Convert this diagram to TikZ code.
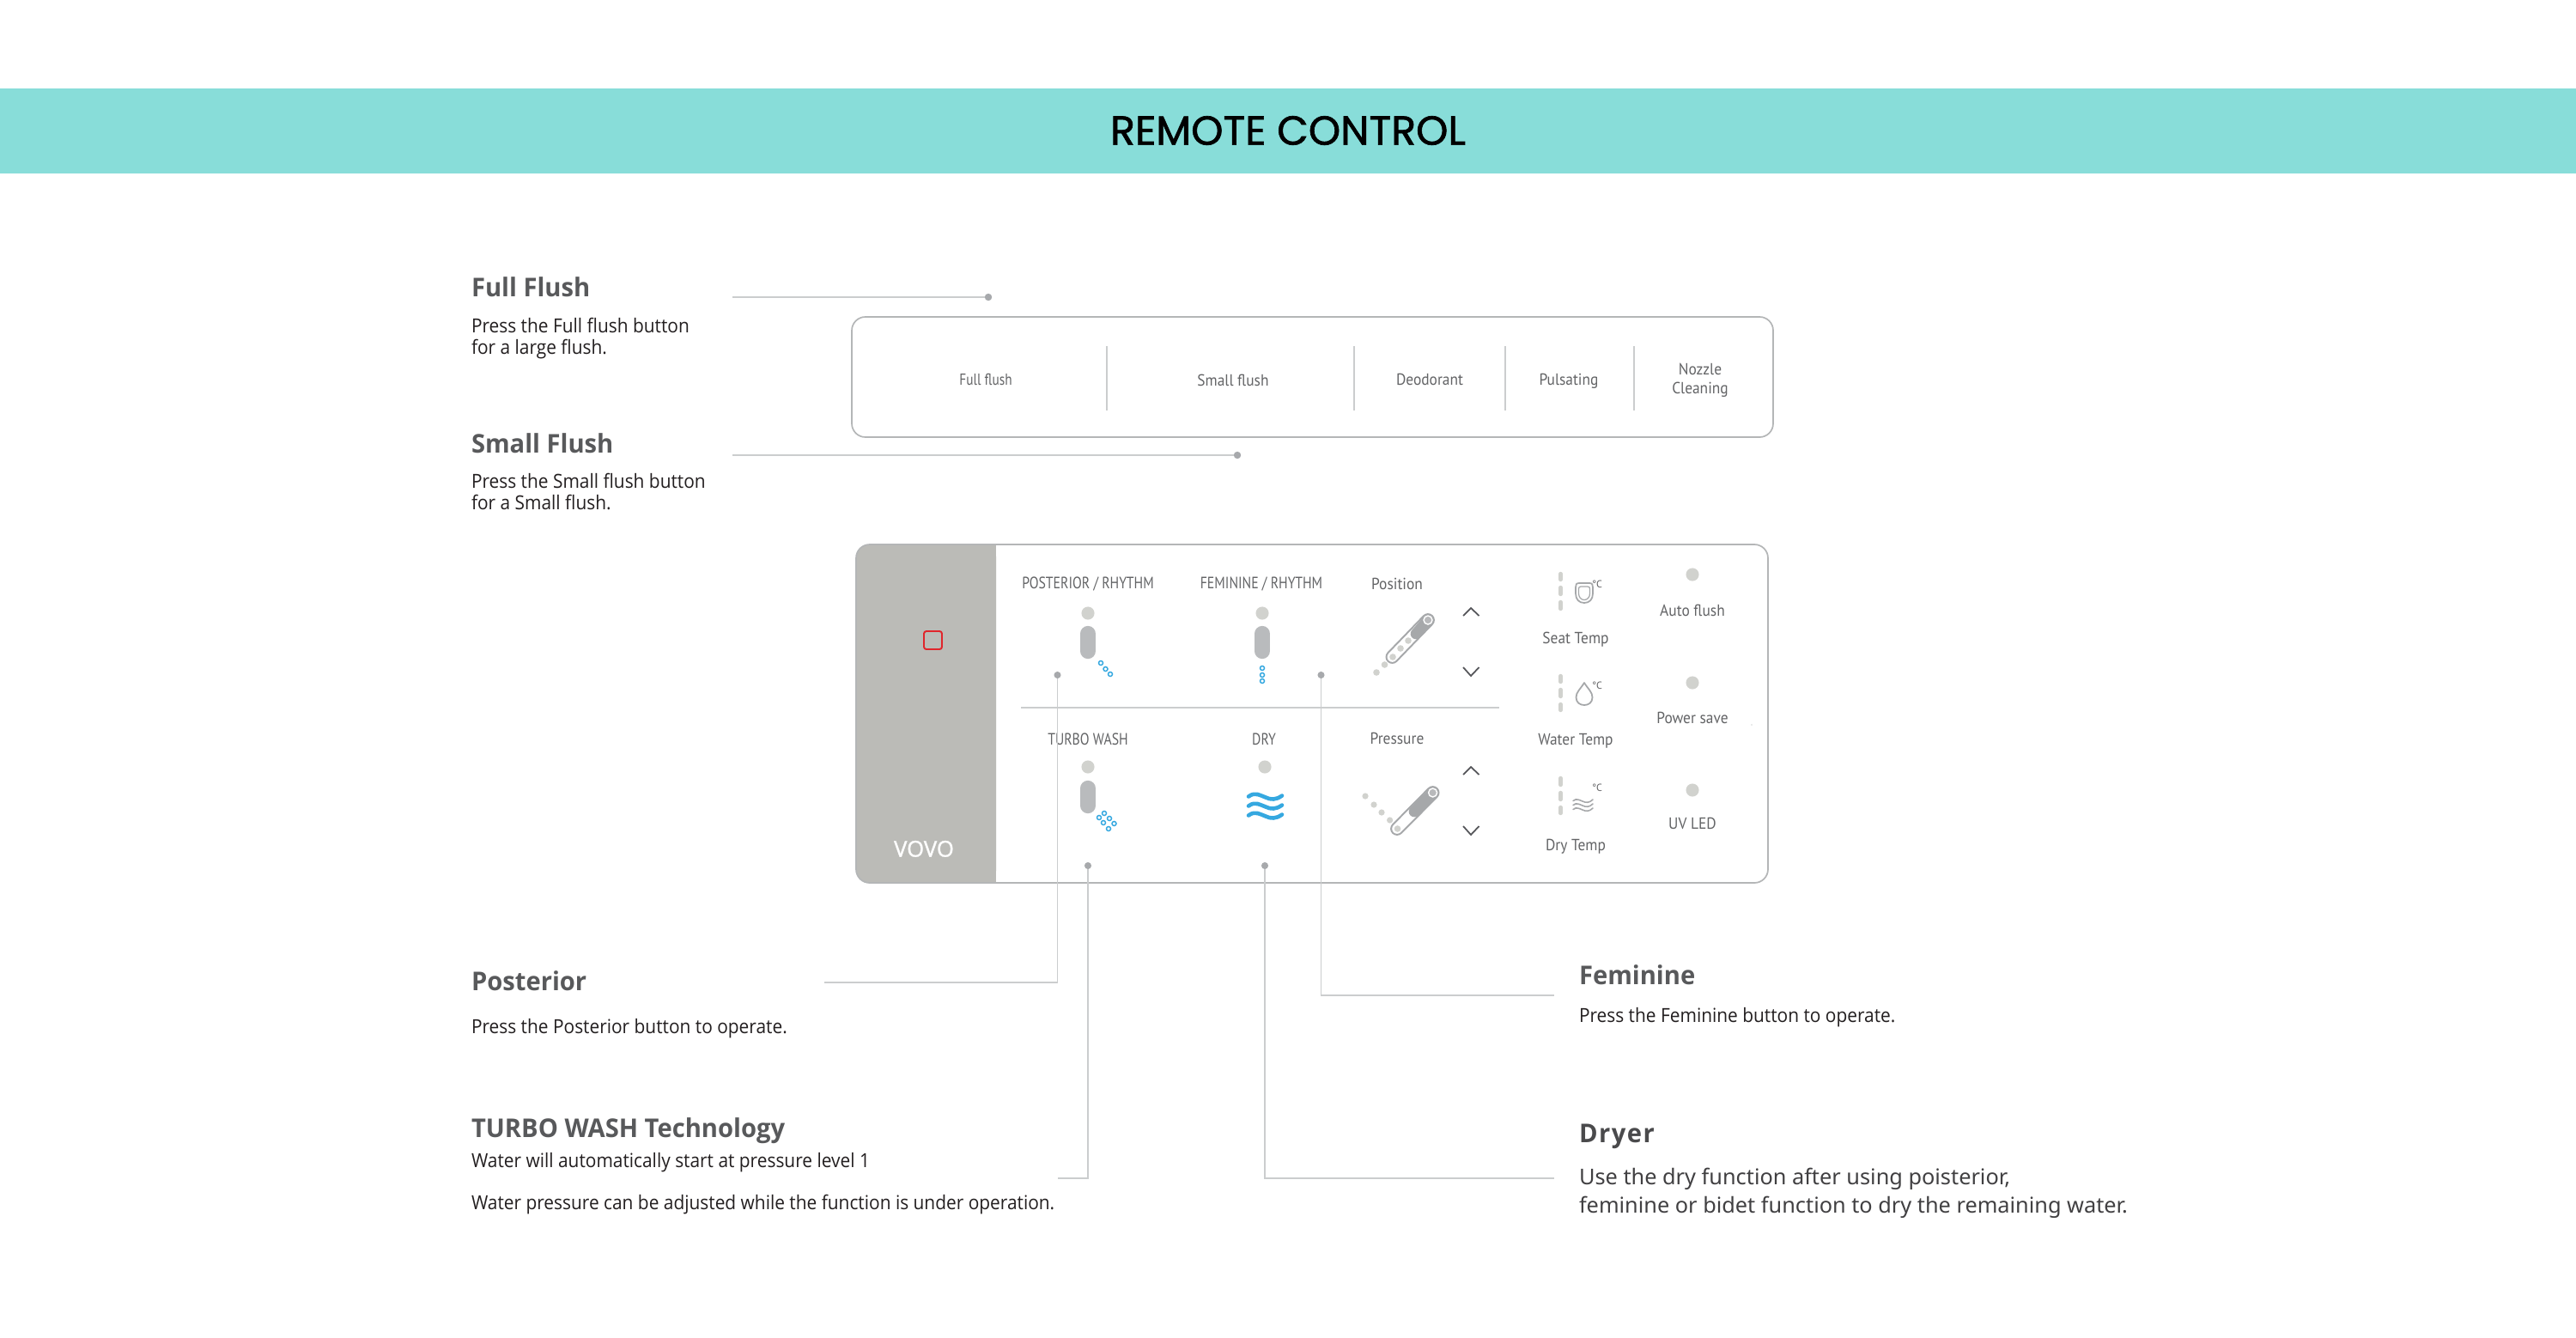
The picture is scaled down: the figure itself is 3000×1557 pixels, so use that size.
\documentclass[tikz,border=0pt]{standalone}
\usepackage{fontspec}
\setmainfont{Open Sans}[FakeStretch=0.925]
\newfontfamily\headfont{Open Sans}[FakeStretch=0.97]
\newfontfamily\vovofont{Open Sans}[FakeBold=1.3]
\newfontfamily\titlefont{Poppins}[FakeBold=1.4]
\newfontfamily\panelfont{PT Sans}[FakeStretch=0.925]
\newfontfamily\capsfont{PT Sans}[FakeStretch=0.823]
\newfontfamily\tinyfont{PT Sans}
\newfontfamily\dryfont{Noto Sans}
\definecolor{banner}{HTML}{88DDD9}
\definecolor{headgray}{HTML}{58595B}
\definecolor{dryhead}{HTML}{4A4A4C}
\definecolor{drybody}{HTML}{414042}
\definecolor{bodyink}{HTML}{231F20}
\definecolor{panelink}{HTML}{636466}
\definecolor{panelgray}{HTML}{BBBBB7}
\definecolor{edgegray}{HTML}{B4B6B7}
\definecolor{leader}{HTML}{CBCDCE}
\definecolor{dotgray}{HTML}{A7A9AC}
\definecolor{ledgray}{HTML}{D1D2CE}
\definecolor{capgray}{HTML}{B9BBBD}
\definecolor{tubedark}{HTML}{A6A8AA}
\definecolor{bluewash}{HTML}{35A8E0}
\definecolor{redmark}{HTML}{E0252B}
\definecolor{chevron}{HTML}{55565A}
\tikzset{
  every node/.style={inner sep=0pt,outer sep=0pt},
  heading/.style={anchor=base west,yshift=-0.5pt,text=headgray,font=\fontsize{8.55}{10}\selectfont\headfont\bfseries},
  dryheading/.style={anchor=base west,yshift=-0.5pt,text=dryhead,font=\fontsize{8.55}{10}\selectfont\headfont\bfseries\addfontfeature{LetterSpace=5}},
  bodytext/.style={anchor=base west,yshift=-0.5pt,text=bodyink,font=\fontsize{6.42}{8}\selectfont},
  drytext/.style={anchor=base west,yshift=-0.5pt,text=drybody,font=\fontsize{7.2}{9}\selectfont\dryfont},
  paneltext/.style={yshift=-0.4pt,text=panelink,align=center,font=\fontsize{5.35}{6.2}\selectfont\panelfont},
  capstext/.style={yshift=-0.4pt,text=panelink,align=center,font=\fontsize{5.45}{6}\selectfont\capsfont},
  tinytext/.style={text=panelink,font=\fontsize{3.4}{4}\selectfont\tinyfont},
  leaderline/.style={draw=leader,line width=0.5pt},
  thickleader/.style={draw=leader,line width=0.7pt},
  enddot/.style={circle,fill=dotgray,minimum size=2.4pt},
  led/.style={circle,fill=ledgray,minimum size=4.3pt},
  divider/.style={draw=leader,line width=0.35pt},
  frameline/.style={draw=edgegray,line width=0.48pt,rounded corners=4.5pt},
  capsule/.style={line width=5.2pt,line cap=round,draw=capgray},
  ring/.style={draw=bluewash,line width=0.42pt,fill=white},
  tempdash/.style={draw=ledgray,line width=1.25pt,line cap=round},
  chev/.style={draw=chevron,line width=0.5pt,line join=miter},
  iconline/.style={draw=tubedark,line width=0.5pt,line join=round},
}
\begin{document}
\begin{tikzpicture}[x=0.01cm,y=-0.01cm]
\useasboundingbox (0,0) rectangle (3000,1557);
\fill[white] (0,0) rectangle (3000,1557);
% banner
\fill[banner] (0,103) rectangle (3000,202);
\node (title) at (1500,152) {\titlefont\fontsize{13.5}{16}\selectfont REMOTE CONTROL};
% left texts, upper
\node[heading] (hFull) at (549,344) {Full Flush};
\node[bodytext] (bFull1) at (549,386) {Press the Full flush button};
\node[bodytext] (bFull2) at (549,411) {for a large flush.};
\node[heading] (hSmall) at (549,526) {Small Flush};
\node[bodytext] (bSmall1) at (549,567) {Press the Small flush button};
\node[bodytext] (bSmall2) at (549,592) {for a Small flush.};
% flush bar
\draw[frameline] (992,369) rectangle (2065,509);
\foreach \x in {1289,1577,1753,1903}{\draw[divider] (\x,403) -- (\x,478);}
\node[paneltext,font=\fontsize{5.3}{6.2}\selectfont\capsfont] (tFull) at (1148,441) {Full flush};
\node[paneltext] (tSmall) at (1436,441) {Small flush};
\node[paneltext] (tDeo) at (1665,441) {Deodorant};
\node[paneltext] (tPul) at (1827,442.5) {Pulsating};
\node[paneltext] (tNoz) at (1980,441.5) {Nozzle\\Cleaning};
% flush leaders
\coordinate (fullStart) at (853,346);
\coordinate (smallStart) at (853,530);
\node[enddot] (fullDot) at (1151,346) {};
\node[enddot] (smallDot) at (1441,530) {};
\draw[thickleader] (fullStart) -- (fullDot);
\draw[thickleader] (smallStart) -- (smallDot);
% remote
\fill[panelgray,rounded corners=4pt] (997,634) -- (997,1028) -- (1160,1028) -- (1160,634) -- cycle;
\fill[panelgray] (1060,634) rectangle (1160,1028);
\draw[frameline] (997,634) rectangle (2059,1028);
\draw[draw=redmark,line width=0.55pt,rounded corners=0.8pt] (1076,735) rectangle (1097,756);
\node[yshift=-0.4pt,text=white,font=\fontsize{7.3}{9}\selectfont\vovofont] (vovo) at (1076,987) {VOVO};
\draw[draw=leader,line width=0.45pt] (1189,824) -- (1746,824);
% panel labels
\node[capstext] (lPos) at (1267,679) {POSTERIOR / RHYTHM};
\node[capstext] (lFem) at (1469,679) {FEMININE / RHYTHM};
\node[paneltext] (lPosn) at (1627,679) {Position};
\node[capstext] (lTurbo) at (1267,859) {TURBO WASH};
\node[capstext] (lDry) at (1472,859) {DRY};
\node[paneltext] (lPres) at (1627,859) {Pressure};
\node[paneltext] (lSeat) at (1835,743) {Seat Temp};
\node[paneltext] (lWater) at (1835,861) {Water Temp};
\node[paneltext] (lDryT) at (1835,984) {Dry Temp};
\node[paneltext] (lAuto) at (1971,709) {Auto flush};
\node[paneltext] (lPower) at (1971,835) {Power save};
\node[paneltext] (lUV) at (1971,958) {UV LED};
% indicator lights
\foreach \n/\x/\y in {a/1267/714,b/1470/714,c/1267/893,d/1473/893,e/1971/669,f/1971/795,g/1971/920}{\node[led] (led\n) at (\x,\y) {};}
% capsules
\draw[capsule] (1267,738) -- (1267,758);
\draw[capsule] (1470,738) -- (1470,758);
\draw[capsule] (1267,918) -- (1267,938);
% blue rings
\foreach \x/\y in {1282/772,1287.5/779,1293/785,1470/778,1470/786,1470/793,1286/947,1292/953,1297.5/959,1280/952,1285/958,1291/965}{\draw[ring] (\x,\y) circle (2.5);}
% dry waves
\foreach \y in {928.5,939.5,950.5}{\draw[draw=bluewash,line width=1.3pt,line cap=round] (1454,\y-1) .. controls (1462,\y-7) and (1468,\y-2) .. (1474,\y) .. controls (1480,\y+3) and (1486,\y+3) .. (1493,\y-2);}
% position tube
\foreach \x/\y in {1603/783,1612.5/774}{\fill[ledgray] (\x,\y) circle (3.8);}
\draw[draw=tubedark,line width=4.5pt,line cap=round] (1621.4,765) -- (1663,722);
\draw[draw=white,line width=3.3pt,line cap=round] (1621.4,765) -- (1663,722);
\foreach \x/\y in {1622/765,1631/755,1640/746}{\fill[ledgray] (\x,\y) circle (3.8);}
\draw[draw=tubedark,line width=3.6pt,line cap=round] (1649,738) -- (1663,722);
\draw[draw=white,line width=0.4pt,fill=tubedark!80] (1663,722) circle (5);
% pressure tube
\foreach \x/\y in {1590/927,1600/937,1609/946,1618.6/955}{\fill[ledgray] (\x,\y) circle (3.6);}
\draw[draw=tubedark,line width=4.5pt,line cap=round] (1627,965) -- (1668.6,923);
\draw[draw=white,line width=3.3pt,line cap=round] (1627,965) -- (1668.6,923);
\fill[ledgray] (1627.5,965) circle (3.8);
\draw[draw=tubedark,line width=3.6pt,line cap=round] (1647,945) -- (1668.6,923);
\draw[draw=white,line width=0.4pt,fill=tubedark!80] (1668.6,923) circle (5);
% chevrons
\draw[chev] (1704,717) -- (1713,708) -- (1722.5,717);
\draw[chev] (1704,777) -- (1713,787) -- (1722.5,777);
\draw[chev] (1704,902) -- (1713,893) -- (1722.5,902);
\draw[chev] (1704,962) -- (1713,972) -- (1722.5,962);
% temp dashes
\foreach \a/\b in {668/675,684/692,701/709,787/794,803/811,820/827,906/914,923/931,940/947}{\draw[tempdash] (1817.5,\a) -- (1817.5,\b);}
% seat icon
\draw[iconline] (1839,679) -- (1851,679) .. controls (1854.5,679) and (1855,681) .. (1855,684) -- (1855,691) .. controls (1855,698) and (1851,702) .. (1845,702) .. controls (1839,702) and (1835,698) .. (1835,691) -- (1835,684) .. controls (1835,681) and (1835.5,679) .. (1839,679) -- cycle;
\draw[iconline,line width=0.35pt] (1841,683) -- (1849,683) .. controls (1851,683) and (1851.5,684) .. (1851.5,686) -- (1851.5,691) .. controls (1851.5,695) and (1849,698.5) .. (1845,698.5) .. controls (1841,698.5) and (1838.5,695) .. (1838.5,691) -- (1838.5,686) .. controls (1838.5,684) and (1839,683) .. (1841,683) -- cycle;
% drop icon
\draw[iconline] (1845,795) .. controls (1840,803) and (1835.5,806) .. (1835.5,812) .. controls (1835.5,818) and (1840,821) .. (1845,821) .. controls (1850,821) and (1854.5,818) .. (1854.5,812) .. controls (1854.5,806) and (1850,803) .. (1845,795) -- cycle;
% dry temp icon
\foreach \y in {933,938,943}{\draw[draw=tubedark,line width=0.45pt,line cap=round] (1832,\y-0.5) .. controls (1836,\y-4) and (1840,\y-1) .. (1843,\y) .. controls (1847,\y+2) and (1851,\y+2) .. (1855,\y-2);}
% degree marks
\node[tinytext] (dSeat) at (1860,680) {°C};
\node[tinytext] (dWater) at (1860,798) {°C};
\node[tinytext] (dDry) at (1860,917) {°C};
\fill[dotgray] (2040,844) circle (0.7);
% dots and connectors
\node[enddot,minimum size=2.3pt] (posDot) at (1231.5,786) {};
\node[enddot,minimum size=2.3pt] (femDot) at (1538.5,786) {};
\node[enddot,minimum size=2.3pt] (turboDot) at (1267,1008) {};
\node[enddot,minimum size=2.3pt] (dryDot) at (1473,1008) {};
\coordinate (posEnd) at (960,1144);
\coordinate (femEnd) at (1810,1159);
\coordinate (turboEnd) at (1232,1372);
\coordinate (dryEnd) at (1810,1372);
\draw[leaderline] (posDot) |- (posEnd);
\draw[leaderline] (femDot) |- (femEnd);
\draw[leaderline] (turboDot) |- (turboEnd);
\draw[leaderline] (dryDot) |- (dryEnd);
% lower left text
\node[heading] (hPos) at (549,1152) {Posterior};
\node[bodytext] (bPos) at (549,1202) {Press the Posterior button to operate.};
\node[heading] (hTurbo) at (549,1323) {TURBO WASH Technology};
\node[bodytext] (bTurbo1) at (549,1358) {Water will automatically start at pressure level 1};
\node[bodytext] (bTurbo2) at (549,1407) {Water pressure can be adjusted while the function is under operation.};
% lower right text
\node[heading] (hFem) at (1839,1145) {Feminine};
\node[bodytext] (bFem) at (1839,1189) {Press the Feminine button to operate.};
\node[dryheading] (hDryer) at (1839,1329) {Dryer};
\node[drytext] (bDry1) at (1839,1378) {Use the dry function after using poisterior,};
\node[drytext] (bDry2) at (1839,1411) {feminine or bidet function to dry the remaining water.};
\end{tikzpicture}
\end{document}
